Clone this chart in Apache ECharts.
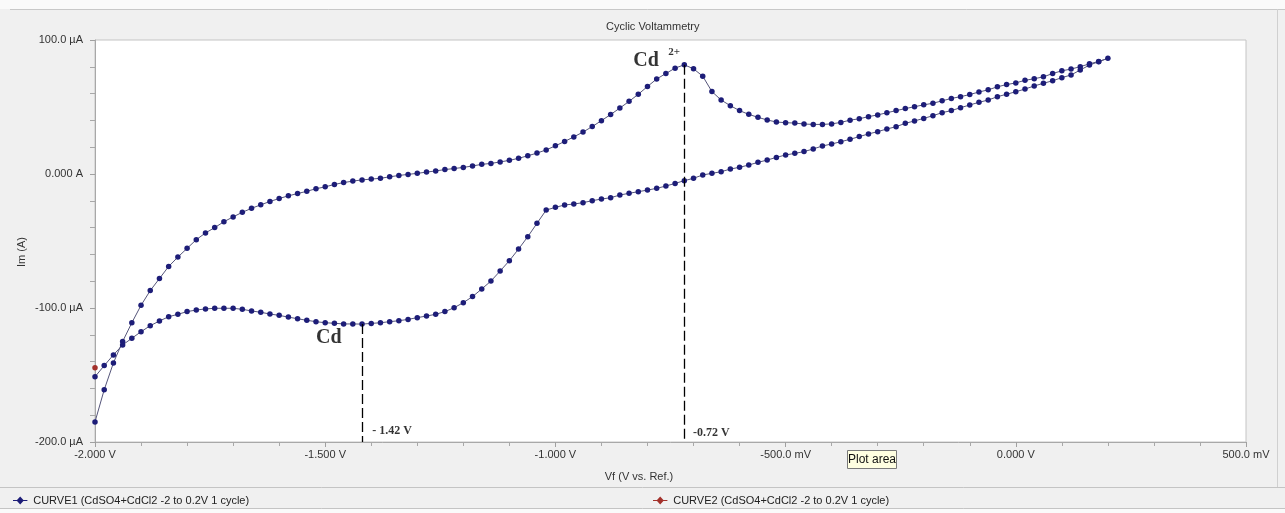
<!DOCTYPE html>
<html><head><meta charset="utf-8">
<script src="https://cdn.jsdelivr.net/npm/echarts@6/dist/echarts.min.js"></script>
<style>html,body{margin:0;padding:0;background:#f0f0f0}#c{width:1285px;height:513px}</style>
</head><body><div id="c"></div>
<script>
// Potential (V) grid of the scan
const voltage = [
 -2.00,-1.98,-1.96,-1.94,-1.92,-1.90,-1.88,-1.86,-1.84,-1.82,
 -1.80,-1.78,-1.76,-1.74,-1.72,-1.70,-1.68,-1.66,-1.64,-1.62,
 -1.60,-1.58,-1.56,-1.54,-1.52,-1.50,-1.48,-1.46,-1.44,-1.42,
 -1.40,-1.38,-1.36,-1.34,-1.32,-1.30,-1.28,-1.26,-1.24,-1.22,
 -1.20,-1.18,-1.16,-1.14,-1.12,-1.10,-1.08,-1.06,-1.04,-1.02,
 -1.00,-0.98,-0.96,-0.94,-0.92,-0.90,-0.88,-0.86,-0.84,-0.82,
 -0.80,-0.78,-0.76,-0.74,-0.72,-0.70,-0.68,-0.66,-0.64,-0.62,
 -0.60,-0.58,-0.56,-0.54,-0.52,-0.50,-0.48,-0.46,-0.44,-0.42,
 -0.40,-0.38,-0.36,-0.34,-0.32,-0.30,-0.28,-0.26,-0.24,-0.22,
 -0.20,-0.18,-0.16,-0.14,-0.12,-0.10,-0.08,-0.06,-0.04,-0.02,
  0.00, 0.02, 0.04, 0.06, 0.08, 0.10, 0.12, 0.14, 0.16, 0.18,
  0.20
];
// Current (µA), forward (anodic) sweep -2.0 -> 0.2 V
const forwardCurrent = [
 -185,-161,-141,-125,-111,-98,-87,-78,-69,-62,
 -55.5,-49,-44,-40,-35.6,-32,-28.6,-25.6,-23,-20.5,
 -18.3,-16.3,-14.6,-12.9,-11,-9.6,-7.8,-6.4,-5.3,-4.4,
 -3.8,-3.2,-2.1,-1.1,-0.3,0.5,1.4,2.3,3.3,4.1,
 4.9,6.0,7.2,7.9,9.0,10.2,11.7,13.6,15.6,18.0,
 21.0,24.3,27.7,31.3,35.4,39.8,44.4,49.2,54.2,59.5,
 65.3,70.9,75.0,79.0,81.5,78.5,73,61.5,55.2,51,
 47.3,44.5,42.3,40.3,38.8,38.3,38,37.3,37,37,
 37.4,38.5,40.2,41.2,42.8,44.1,45.7,47.3,48.8,50.2,
 51.6,52.8,54.6,56.4,57.7,59.3,61.2,62.8,65.1,66.7,
 68.0,69.9,71.1,72.5,75.0,77.0,78.3,80.1,82.2,84.0,
 86.3
];
// Current (µA), reverse (cathodic) sweep, listed at the same potentials
const reverseCurrent = [
 -151.3,-143,-135,-127.6,-122.6,-117.7,-113.2,-109.7,-106.5,-104.7,
 -102.7,-101.5,-100.7,-100.2,-100.2,-100.2,-101,-102.2,-103.2,-104.5,
 -105.5,-106.8,-108,-109.2,-110.2,-111,-111.4,-111.9,-111.9,-112,
 -111.5,-111,-110.2,-109.5,-108.5,-107.2,-106,-104.7,-102.7,-99.8,
 -96,-91.5,-85.8,-79.9,-72.4,-64.7,-56,-46.8,-36.8,-26.9,
 -24.9,-23.1,-22.4,-21.4,-19.9,-18.7,-17.7,-15.7,-14.4,-13.2,
 -12,-10.7,-9,-7,-5.0,-3.2,-0.7,0.5,1.7,3.7,
 5.0,6.7,8.7,10.4,12.4,14.2,15.4,16.7,18.7,20.9,
 22.4,24.1,25.9,27.9,29.9,31.6,33.6,35.3,37.8,39.6,
 41.5,43.5,45.8,47.3,49.5,51.5,53.5,55.2,57.7,59.5,
 61.4,63.4,65.7,67.7,69.6,71.9,73.9,77.6,81.3,83.8,
 86.3
];
const curve2Voltage = [-2.0];
const curve2Current = [-144.5];

const xTickValues = [-2, -1.5, -1, -0.5, 0, 0.5];
const xTickLabels = ['-2.000 V', '-1.500 V', '-1.000 V', '-500.0 mV', '0.000 V', '500.0 mV'];
const yTickValues = [-200, -100, 0, 100];
const yTickLabels = ['-200.0 µA', '-100.0 µA', '0.000 A', '100.0 µA'];

const peakPotentials = [-1.42, -0.72];
const peakCurrents = [-112, 81.5];
const peakLabels = ['- 1.42 V', '-0.72 V'];

const curve1Name = 'CURVE1 (CdSO4+CdCl2 -2 to 0.2V 1 cycle)';
const curve2Name = 'CURVE2 (CdSO4+CdCl2 -2 to 0.2V 1 cycle)';

const curve1 = [];
for (let i = 0; i < voltage.length; i++) curve1.push([voltage[i], forwardCurrent[i]]);
for (let i = voltage.length - 2; i >= 0; i--) curve1.push([voltage[i], reverseCurrent[i]]);
const curve2 = curve2Voltage.map((v, i) => [v, curve2Current[i]]);

function lookup(vals, labels, v) {
  for (let i = 0; i < vals.length; i++) if (Math.abs(vals[i] - v) < 1e-9) return labels[i];
  return '';
}

const serif = 'Liberation Serif';
const sans = 'Liberation Sans';
const legendIcon = 'path://M0,4.4H5L9,0L13,4.4H18V5.6H13L9,10L5,5.6H0Z';

const annotations = [
  { value: [-0.803, 84.3], label: { formatter: 'Cd', fontSize: 20, position: 'inside' } },
  { value: [-0.742, 90.8], label: { formatter: '2+', fontSize: 11, position: 'inside' } },
  { value: [-1.492, -122.4], label: { formatter: 'Cd', fontSize: 20, position: 'inside' } },
  { value: [-1.398, -191.8], label: { formatter: peakLabels[0], fontSize: 12, position: 'right', distance: 0 } },
  { value: [-0.701, -193.3], label: { formatter: peakLabels[1], fontSize: 12, position: 'right', distance: 0 } }
];

const chart = echarts.init(document.getElementById('c'), null, { renderer: 'canvas' });
chart.setOption({
  animation: false,
  backgroundColor: '#f0f0f0',
  title: {
    text: 'Cyclic Voltammetry', left: 601, top: 16,
    textStyle: { fontSize: 11, fontWeight: 'normal', color: '#333', fontFamily: sans }
  },
  grid: {
    left: 95, top: 40, right: 39, bottom: 71,
    show: true, backgroundColor: '#ffffff', borderColor: '#c4c4c4', borderWidth: 1
  },
  xAxis: {
    type: 'value', min: -2, max: 0.5, interval: 0.5,
    axisLine: { show: true, onZero: false, lineStyle: { color: '#a8a8a8' } },
    axisTick: { show: true, length: 5, lineStyle: { color: '#a0a0a0' } },
    minorTick: { show: true, splitNumber: 5, length: 4, lineStyle: { color: '#a8a8a8' } },
    splitLine: { show: false },
    axisLabel: {
      margin: 7, fontSize: 11, color: '#333', fontFamily: sans,
      formatter: v => lookup(xTickValues, xTickLabels, v)
    }
  },
  yAxis: {
    type: 'value', min: -200, max: 100, interval: 100,
    axisLine: { show: true, onZero: false, lineStyle: { color: '#a8a8a8' } },
    axisTick: { show: true, length: 5, lineStyle: { color: '#a0a0a0' } },
    minorTick: { show: true, splitNumber: 5, length: 5, lineStyle: { color: '#a8a8a8' } },
    splitLine: { show: false },
    axisLabel: {
      margin: 12, fontSize: 11, color: '#333', fontFamily: sans,
      formatter: v => lookup(yTickValues, yTickLabels, v)
    }
  },
  legend: [
    {
      data: [curve1Name], left: 8, top: 490, icon: legendIcon, itemWidth: 16, itemHeight: 8,
      selectedMode: false, textStyle: { fontSize: 11, color: '#222', fontFamily: sans }
    },
    {
      data: [curve2Name], left: 648, top: 490, icon: legendIcon, itemWidth: 16, itemHeight: 8,
      selectedMode: false, textStyle: { fontSize: 11, color: '#222', fontFamily: sans }
    }
  ],
  series: [
    {
      name: curve1Name, type: 'line', data: curve1,
      symbol: 'circle', symbolSize: 5.5, showSymbol: true, showAllSymbol: true,
      itemStyle: { color: '#1d1d78' },
      lineStyle: { color: '#55557a', width: 1 },
      markLine: {
        silent: true, symbol: ['none', 'none'], label: { show: false },
        lineStyle: { type: [10, 4], color: '#000', width: 1.3 },
        data: peakPotentials.map((p, i) => [{ coord: [p, peakCurrents[i]] }, { coord: [p, -200] }])
      },
      z: 3
    },
    {
      name: curve2Name, type: 'line', data: curve2,
      symbol: 'circle', symbolSize: 5.5, showSymbol: true,
      itemStyle: { color: '#a3312b' },
      lineStyle: { color: '#a3312b', width: 1 },
      z: 4
    },
    {
      name: 'annotations', type: 'scatter', symbolSize: 0, silent: true,
      itemStyle: { color: '#000' },
      data: annotations.map(a => ({
        value: a.value,
        label: Object.assign({ show: true, color: '#000', fontWeight: 'bold', fontFamily: serif, textBorderWidth: 0 }, a.label)
      })),
      z: 5
    }
  ],
  graphic: [
    { type: 'rect', shape: { x: 0, y: 0, width: 1285, height: 9 }, style: { fill: '#fafafa' }, silent: true },
    { type: 'line', shape: { x1: 10, y1: 9.5, x2: 1285, y2: 9.5 }, style: { stroke: '#c8c8c8', lineWidth: 1 }, silent: true },
    { type: 'line', shape: { x1: 1277.5, y1: 9, x2: 1277.5, y2: 487 }, style: { stroke: '#d0d0d0', lineWidth: 1 }, silent: true },
    { type: 'line', shape: { x1: 0, y1: 487.5, x2: 1285, y2: 487.5 }, style: { stroke: '#c4c4c4', lineWidth: 1 }, silent: true },
    { type: 'line', shape: { x1: 0, y1: 508.5, x2: 1285, y2: 508.5 }, style: { stroke: '#c4c4c4', lineWidth: 1 }, silent: true },
    { type: 'rect', shape: { x: 0, y: 509, width: 1285, height: 4 }, style: { fill: '#fafafa' }, silent: true },
    {
      type: 'text', x: 22, y: 252, rotation: Math.PI / 2, silent: true,
      style: { text: 'Im (A)', fontSize: 11, fill: '#333', fontFamily: sans, align: 'center', verticalAlign: 'middle' }
    },
    {
      type: 'text', x: 639, y: 477, silent: true,
      style: { text: 'Vf (V vs. Ref.)', fontSize: 11, fill: '#333', fontFamily: sans, align: 'center', verticalAlign: 'middle' }
    },
    {
      type: 'group', silent: true, children: [
        { type: 'rect', shape: { x: 847.5, y: 450.5, width: 49, height: 18 }, style: { fill: '#ffffe1', stroke: '#7a7a7a', lineWidth: 1 } },
        { type: 'text', x: 872, y: 460, style: { text: 'Plot area', fontSize: 12, fill: '#111', fontFamily: sans, align: 'center', verticalAlign: 'middle' } }
      ]
    }
  ]
});
</script>
</body></html>
